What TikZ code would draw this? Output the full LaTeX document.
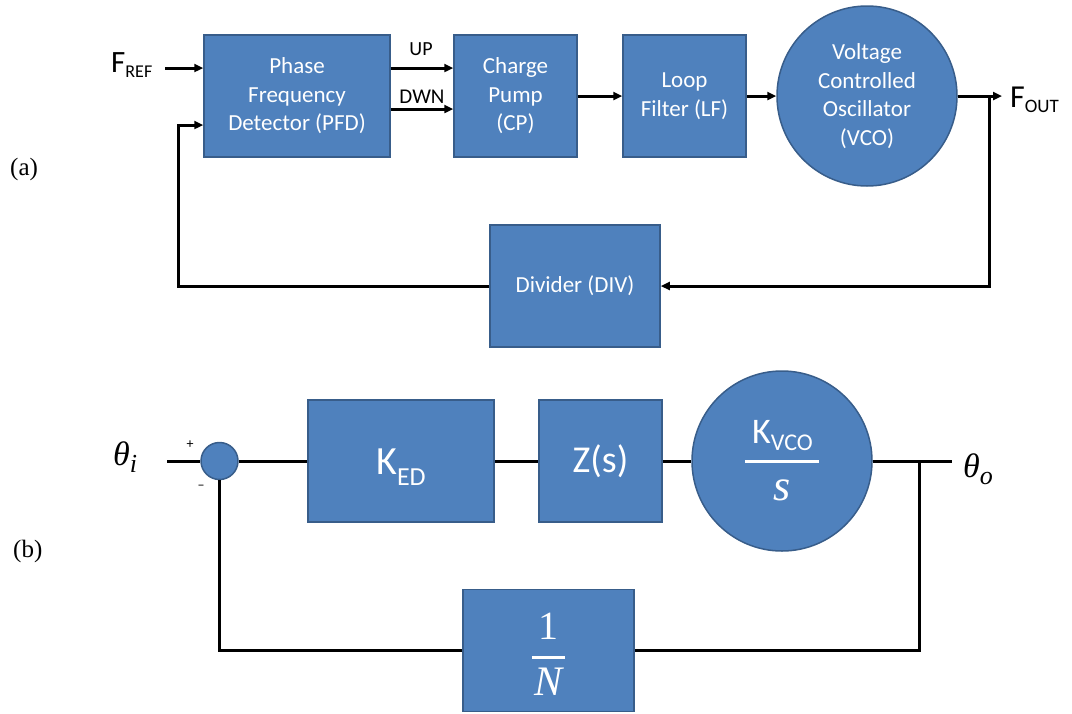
\RequirePackage{fix-cm}
\documentclass[tikz,border=0pt]{standalone}
\usepackage{fontspec}
\setmainfont{Carlito}
\newfontfamily\tnr{Liberation Serif}
\usetikzlibrary{arrows.meta}
\definecolor{boxfill}{HTML}{4F81BD}
\definecolor{boxline}{HTML}{385D8A}
\tikzset{
  blk/.style={draw=boxline, fill=boxfill, line width=1.5pt, text=white, inner sep=0pt,
    align=center, font=\fontsize{23}{28.5}\selectfont},
  circblk/.style={blk, circle, minimum size=180pt},
  wire/.style={line width=3pt},
  arr/.style={wire, -{Triangle[length=9pt,width=8pt]}},
  lbl/.style={inner sep=0pt, text=black},
}
\begin{document}
\begin{tikzpicture}[x=1pt,y=-1pt]
\path[use as bounding box] (0,0) rectangle (1072,713);

% ---------- (a) ----------
\node[lbl, anchor=base west] (alabel) at (10,175) {\tnr\fontsize{25}{25}\selectfont (a)};

\node[blk, minimum width=186pt, minimum height=122pt] (pfd) at (297,96) {Phase\\Frequency\\Detector (PFD)};
\node[blk, minimum width=123pt, minimum height=122pt] (cp) at (515.5,96) {Charge\\Pump\\(CP)};
\node[blk, minimum width=123pt, minimum height=122pt] (lf) at (684.5,96) {Loop\\Filter (LF)};
\node[circblk] (vco) at (867,96) {Voltage\\Controlled\\Oscillator\\(VCO)};
\node[blk, minimum width=170pt, minimum height=122pt] (div) at (575,286) {Divider (DIV)};

\node[lbl, anchor=base west] (freflbl) at (111,72) {\fontsize{31}{31}\selectfont F\raisebox{-5pt}{\fontsize{18}{18}\selectfont REF}};
\coordinate (fref) at (165,68);
\draw[arr] (fref) -- (fref -| pfd.west);

\draw[arr] ([yshift=28pt]pfd.east) -- ([yshift=28pt]cp.west);
\draw[arr] ([yshift=-13pt]pfd.east) -- ([yshift=-13pt]cp.west);
\node[lbl, anchor=base] (uplbl) at (421,55) {\fontsize{20}{20}\selectfont UP};
\node[lbl, anchor=base] (dwnlbl) at (422,103) {\fontsize{21}{21}\selectfont DWN};

\draw[arr] (cp.east) -- (lf.west);
\draw[arr] (lf.east) -- (vco.west);

\coordinate (fout) at (1002,96);
\draw[arr] (vco.east) -- (fout);
\node[lbl, anchor=base west] (foutlbl) at (1010,107) {\fontsize{32}{32}\selectfont F\raisebox{-5pt}{\fontsize{19}{19}\selectfont OUT}};

\coordinate (tap) at (989,96);
\draw[arr] (tap) |- (div.east);
\coordinate (fbk) at (178,125);
\draw[arr] (div.west) -| (fbk) -- ([yshift=-29pt]pfd.west);

% ---------- (b) ----------
\node[lbl, anchor=base west] (blabel) at (13,557) {\tnr\fontsize{25}{25}\selectfont (b)};

\node[blk, circle, minimum size=37pt] (sum) at (219.5,461) {};
\node[blk, minimum width=186pt, minimum height=122pt, text height=37pt, text depth=11pt] (ked) at (401,461)
  {\fontsize{40}{40}\selectfont K\raisebox{-11pt}{\fontsize{26}{26}\selectfont ED}};
\node[blk, minimum width=123pt, minimum height=122pt] (zs) at (600.5,461) {\fontsize{38}{38}\selectfont Z(s)};
\node[circblk] (kvco) at (782,461)
  {\fontsize{42}{42}\selectfont $\displaystyle{\hbox{\,\fontsize{36}{36}\selectfont K\raisebox{-7pt}{\fontsize{24}{24}\selectfont VCO}\,}\above 3pt \hbox{\tnr\itshape\fontsize{44}{44}\selectfont s}}$};
\node[blk, minimum width=171pt, minimum height=122pt, text height=53pt, text depth=20pt] (oneN) at (548.5,650.5)
  {\fontsize{40}{40}\selectfont $\displaystyle{\hbox{\,\tnr\fontsize{40}{40}\selectfont 1\,}\above 3pt \hbox{\tnr\itshape\fontsize{42}{42}\selectfont N}}$};

\node[lbl, anchor=base west] (thilbl) at (113,465) {\tnr\itshape\fontsize{34}{34}\selectfont θ\raisebox{-7pt}{\fontsize{26}{26}\selectfont i}};
\node[lbl, anchor=base west] (tholbl) at (963,477) {\tnr\itshape\fontsize{34}{34}\selectfont θ\raisebox{-7pt}{\fontsize{26}{26}\selectfont o}};
\node[lbl] (plus) at (190,445) {\fontsize{14}{14}\selectfont +};
\node[lbl] (minus) at (201,487) {\fontsize{14}{14}\selectfont –};

\coordinate (thin) at (167,461);
\draw[wire] (thin) -- (sum.west);
\draw[wire] (sum.east) -- (ked.west);
\draw[wire] (ked.east) -- (zs.west);
\draw[wire] (zs.east) -- (kvco.west);
\coordinate (thout) at (952,461);
\draw[wire] (kvco.east) -- (thout);
\coordinate (tap2) at (919,461);
\draw[wire] (tap2) |- (oneN.east);
\draw[wire] (oneN.west) -| (sum.south);
\end{tikzpicture}
\end{document}
